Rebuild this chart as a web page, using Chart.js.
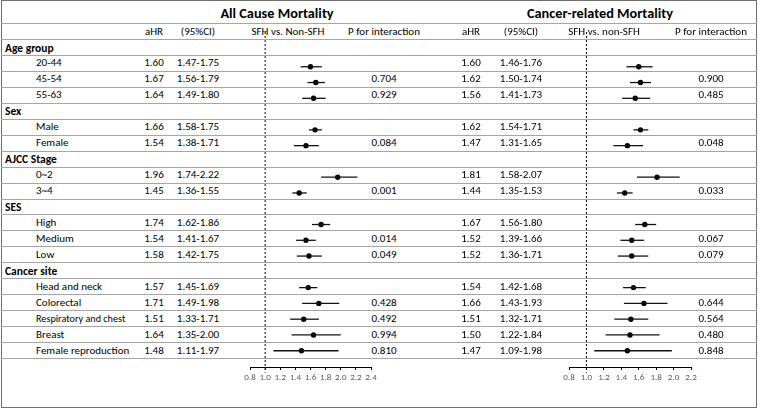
<!DOCTYPE html>
<html>
<head>
<meta charset="utf-8">
<script src="https://cdn.jsdelivr.net/npm/chart.js@4.4.0/dist/chart.umd.min.js"></script>
<style>
  html, body { margin: 0; padding: 0; background: #fff; }
  #sheet {
    position: relative; width: 758px; height: 409px; overflow: hidden; background: #fff;
    font-family: "Carlito", "Liberation Sans Narrow", "Arial Narrow", "Liberation Sans", sans-serif;
    font-size: 11px; color: #000;
  }
  .cell { position: absolute; white-space: nowrap; line-height: 14px; height: 14px; }
  .bold { font-weight: bold; font-size: 11.5px; }
  .title { font-weight: bold; font-size: 14.3px; line-height: 18px; height: 18px; }
  .small { font-size: 10.2px; }
  .hline { position: absolute; left: 1px; width: 756px; height: 1px; background: #a6a6a6; }
  .frame { position: absolute; left: 1px; top: 0; width: 756px; height: 408px; box-sizing: border-box; border: 1px solid #6e6e6e; }
  canvas { position: absolute; top: 0; }
</style>
</head>
<body>
<div id="sheet"><div class="frame"></div></div>
<script>
// rows of the table (group headers have no values)
var rowLabels = ['Age group', '20-44', '45-54', '55-63',
  'Sex', 'Male', 'Female',
  'AJCC Stage', '0~2', '3~4',
  'SES', 'High', 'Medium', 'Low',
  'Cancer site', 'Head and neck', 'Colorectal', 'Respiratory and chest', 'Breast', 'Female reproduction'];
var groupRows = [0, 4, 7, 10, 14];

// All cause mortality
var allHR = [null, 1.60, 1.67, 1.64, null, 1.66, 1.54, null, 1.96, 1.45, null, 1.74, 1.54, 1.58, null, 1.57, 1.71, 1.51, 1.64, 1.48];
var allLo = [null, 1.47, 1.56, 1.49, null, 1.58, 1.38, null, 1.74, 1.36, null, 1.62, 1.41, 1.42, null, 1.45, 1.49, 1.33, 1.35, 1.11];
var allHi = [null, 1.75, 1.79, 1.80, null, 1.75, 1.71, null, 2.22, 1.55, null, 1.86, 1.67, 1.75, null, 1.69, 1.98, 1.71, 2.00, 1.97];
var allP  = ['', '', '0.704', '0.929', '', '', '0.084', '', '', '0.001', '', '', '0.014', '0.049', '', '', '0.428', '0.492', '0.994', '0.810'];

// Cancer-related mortality
var canHR = [null, 1.60, 1.62, 1.56, null, 1.62, 1.47, null, 1.81, 1.44, null, 1.67, 1.52, 1.52, null, 1.54, 1.66, 1.51, 1.50, 1.47];
var canLo = [null, 1.46, 1.50, 1.41, null, 1.54, 1.31, null, 1.58, 1.35, null, 1.56, 1.39, 1.36, null, 1.42, 1.43, 1.32, 1.22, 1.09];
var canHi = [null, 1.76, 1.74, 1.73, null, 1.71, 1.65, null, 2.07, 1.53, null, 1.80, 1.66, 1.71, null, 1.68, 1.93, 1.71, 1.84, 1.98];
var canP  = ['', '', '0.900', '0.485', '', '', '0.048', '', '', '0.033', '', '', '0.067', '0.079', '', '', '0.644', '0.564', '0.480', '0.848'];

// axis ticks
var allTicks = [0.8, 1.0, 1.2, 1.4, 1.6, 1.8, 2.0, 2.2, 2.4];
var canTicks = [0.8, 1.0, 1.2, 1.4, 1.6, 1.8, 2.0, 2.2];

var FONT = '"Carlito", "Liberation Sans Narrow", "Arial Narrow", "Liberation Sans", sans-serif';
var ROW_H = 15.95;
var ROW0 = 47.5;     // centre of first row
var AXIS_Y = 367;    // pixel of the forest x axis

var sheet = document.getElementById('sheet');

function rowY(i) { return ROW0 + i * ROW_H; }

function place(text, x, yc, align, cls) {
  var d = document.createElement('div');
  d.className = 'cell' + (cls ? ' ' + cls : '');
  d.textContent = text;
  var h = cls && cls.indexOf('title') >= 0 ? 18 : 14;
  d.style.top = (yc - h / 2) + 'px';
  if (align === 'center') {
    d.style.left = (x - 100) + 'px';
    d.style.width = '200px';
    d.style.textAlign = 'center';
  } else {
    d.style.left = x + 'px';
  }
  sheet.appendChild(d);
}

function hline(y) {
  var d = document.createElement('div');
  d.className = 'hline';
  d.style.top = y + 'px';
  sheet.appendChild(d);
}

// grid lines
hline(23);
for (var k = 0; k <= 20; k++) hline(Math.round(39 + k * ROW_H));

// row labels
rowLabels.forEach(function (lab, i) {
  if (groupRows.indexOf(i) >= 0) place(lab, 5, rowY(i), 'left', 'bold');
  else place(lab, 36, rowY(i), 'left', lab.length > 19 ? 'small' : '');
});

var panels = [
  { title: 'All Cause Mortality', titleX: 277, plotHead: 'SFH vs. Non-SFH',
    hr: allHR, lo: allLo, hi: allHi, p: allP, ticks: allTicks,
    cols: { hr: 154, ci: 198, plot: 288, p: 384 }, axisLeft: 250, axisRight: 371 },
  { title: 'Cancer-related Mortality', titleX: 600, plotHead: 'SFH vs. non-SFH',
    hr: canHR, lo: canLo, hi: canHi, p: canP, ticks: canTicks,
    cols: { hr: 471, ci: 521, plot: 604, p: 711 }, axisLeft: 569, axisRight: 691 }
];

function makeForest(panel) {
  var pad = 16;
  var w = panel.axisRight - panel.axisLeft + pad * 2;
  var canvas = document.createElement('canvas');
  canvas.width = w;
  canvas.height = 409;
  canvas.style.left = (panel.axisLeft - pad) + 'px';
  canvas.style.width = w + 'px';
  canvas.style.height = '409px';
  sheet.appendChild(canvas);

  var datasets = [];
  // reference line at HR = 1
  datasets.push({
    data: [{ x: 1, y: -1.2 }, { x: 1, y: 20.4 }],
    showLine: true, borderColor: '#000', borderWidth: 1, borderDash: [2, 2],
    pointRadius: 0, clip: false
  });
  // confidence intervals
  var points = [];
  panel.hr.forEach(function (v, i) {
    if (v === null) return;
    datasets.push({
      data: [{ x: panel.lo[i], y: i }, { x: panel.hi[i], y: i }],
      showLine: true, borderColor: '#111', borderWidth: 1.3, pointRadius: 0
    });
    points.push({ x: v, y: i });
  });
  datasets.push({
    data: points, showLine: false,
    pointRadius: 2.7, pointBackgroundColor: '#000', pointBorderWidth: 0
  });

  return new Chart(canvas, {
    type: 'scatter',
    data: { datasets: datasets },
    options: {
      responsive: false,
      animation: false,
      layout: { padding: { left: pad, right: pad, top: 0, bottom: 0 } },
      plugins: { legend: { display: false }, tooltip: { enabled: false } },
      scales: {
        x: {
          type: 'linear',
          min: panel.ticks[0],
          max: panel.ticks[panel.ticks.length - 1],
          afterBuildTicks: function (s) { s.ticks = panel.ticks.map(function (v) { return { value: v }; }); },
          afterFit: function (s) { s.height = 409 - AXIS_Y; },
          ticks: {
            color: '#595959', padding: 2, autoSkip: false, maxRotation: 0,
            font: { size: 9, family: FONT },
            callback: function (v) { return Number(v).toFixed(1); }
          },
          grid: { drawOnChartArea: false, tickLength: 3, color: '#000' },
          border: { color: '#000', width: 1 }
        },
        y: {
          type: 'linear', display: false, reverse: true,
          min: (0 - ROW0) / ROW_H,
          max: (AXIS_Y - ROW0) / ROW_H
        }
      }
    }
  });
}

panels.forEach(function (panel) {
  place(panel.title, panel.titleX, 13, 'center', 'title');
  place('aHR', panel.cols.hr, rowY(-1), 'center');
  place('(95%CI)', panel.cols.ci, rowY(-1), 'center');
  place(panel.plotHead, panel.cols.plot, rowY(-1), 'center');
  place('P for interaction', panel.cols.p, rowY(-1), 'center');
  panel.hr.forEach(function (v, i) {
    if (v === null) return;
    place(v.toFixed(2), panel.cols.hr, rowY(i), 'center');
    place(panel.lo[i].toFixed(2) + '-' + panel.hi[i].toFixed(2), panel.cols.ci, rowY(i), 'center');
    if (panel.p[i]) place(panel.p[i], panel.cols.p, rowY(i), 'center');
  });
  makeForest(panel);
});
</script>
</body>
</html>
